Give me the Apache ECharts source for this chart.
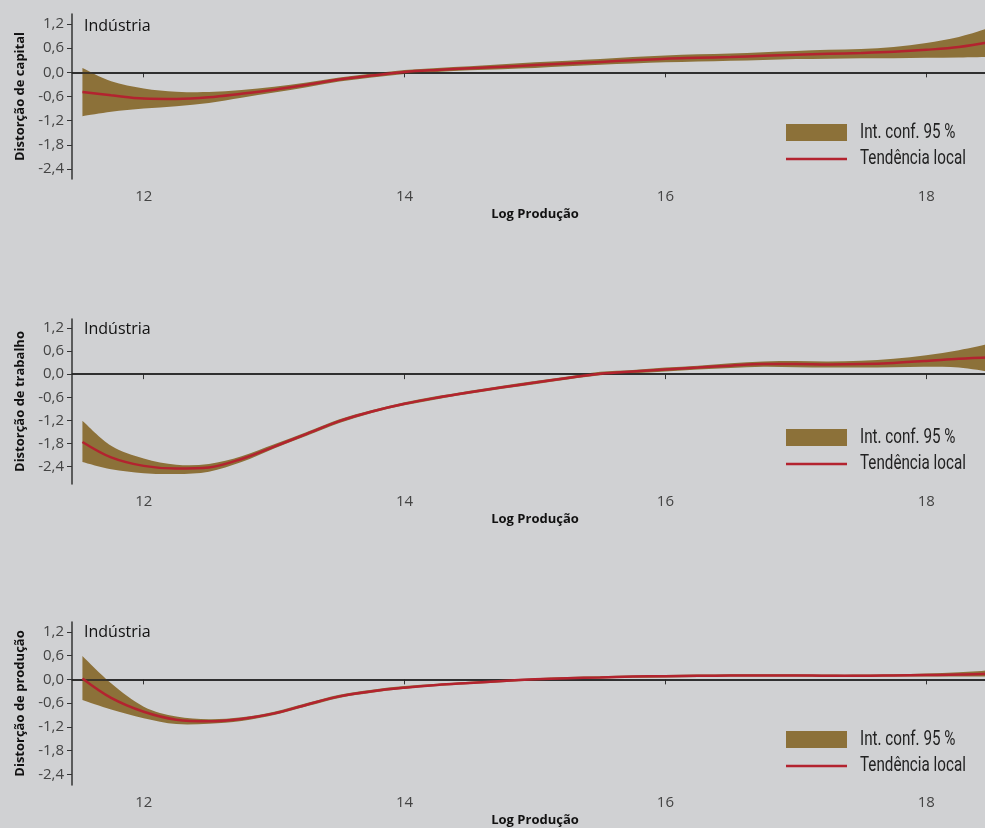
<!DOCTYPE html>
<html>
<head>
<meta charset="utf-8">
<script src="https://cdn.jsdelivr.net/npm/echarts@6/dist/echarts.min.js"></script>
<style>
html,body{margin:0;padding:0;background:#d0d1d3;overflow:hidden;}
#chart{width:1000px;height:828px;}
</style>
</head>
<body>
<div id="chart"></div>
<script>
// ---- data ----
const xs = [11.53, 11.75, 12, 12.25, 12.5, 12.75, 13, 13.25, 13.5, 13.75, 14, 14.25, 14.5, 14.75, 15,
            15.25, 15.5, 15.75, 16, 16.25, 16.5, 16.75, 17, 17.25, 17.5, 17.75, 18, 18.25, 18.5];

// Distorção de capital
const capLine  = [-0.49,-0.57,-0.65,-0.66,-0.62,-0.53,-0.43,-0.31,-0.18,-0.08, 0.01, 0.06, 0.10, 0.14, 0.18,
                   0.22, 0.26, 0.30, 0.34, 0.36, 0.38, 0.41, 0.44, 0.46, 0.48, 0.51, 0.56, 0.63, 0.76];
const capLower = [-1.09,-0.98,-0.90,-0.84,-0.76,-0.63,-0.50,-0.37,-0.23,-0.13,-0.04, 0.01, 0.05, 0.08, 0.11,
                   0.15, 0.19, 0.22, 0.25, 0.27, 0.29, 0.31, 0.33, 0.34, 0.35, 0.35, 0.36, 0.37, 0.39];
const capUpper = [ 0.11,-0.22,-0.40,-0.48,-0.49,-0.44,-0.36,-0.25,-0.13,-0.03, 0.06, 0.11, 0.15, 0.20, 0.25,
                   0.29, 0.33, 0.38, 0.42, 0.45, 0.47, 0.50, 0.53, 0.56, 0.58, 0.63, 0.73, 0.88, 1.12];

// Distorção de trabalho
const trabLine  = [-1.76,-2.16,-2.38,-2.45,-2.42,-2.20,-1.88,-1.55,-1.22,-0.97,-0.77,-0.61,-0.47,-0.34,-0.22,
                   -0.10, 0.01, 0.07, 0.12, 0.17, 0.22, 0.26, 0.26, 0.25, 0.26, 0.29, 0.34, 0.40, 0.44];
const trabLower = [-2.28,-2.47,-2.57,-2.59,-2.53,-2.28,-1.93,-1.60,-1.27,-1.01,-0.81,-0.65,-0.51,-0.38,-0.26,
                   -0.14,-0.03, 0.02, 0.07, 0.12, 0.16, 0.19, 0.18, 0.17, 0.17, 0.18, 0.19, 0.17, 0.05];
const trabUpper = [-1.21,-1.86,-2.19,-2.35,-2.33,-2.13,-1.82,-1.50,-1.17,-0.93,-0.73,-0.57,-0.43,-0.30,-0.18,
                   -0.06, 0.06, 0.11, 0.17, 0.22, 0.28, 0.33, 0.34, 0.33, 0.35, 0.40, 0.49, 0.62, 0.80];

// Distorção de produção
const prodLine  = [ 0.02,-0.47,-0.82,-1.02,-1.06,-1.00,-0.86,-0.64,-0.43,-0.30,-0.21,-0.14,-0.09,-0.04, 0.00,
                    0.03, 0.05, 0.07, 0.08, 0.09, 0.10, 0.10, 0.10, 0.09, 0.09, 0.10, 0.11, 0.12, 0.15];
const prodLower = [-0.52,-0.76,-0.98,-1.13,-1.12,-1.05,-0.90,-0.68,-0.47,-0.34,-0.24,-0.17,-0.12,-0.07,-0.03,
                    0.00, 0.02, 0.04, 0.05, 0.06, 0.07, 0.07, 0.07, 0.06, 0.06, 0.07, 0.07, 0.07, 0.07];
const prodUpper = [ 0.59,-0.10,-0.69,-0.94,-1.01,-0.96,-0.82,-0.60,-0.39,-0.26,-0.17,-0.11,-0.06,-0.01, 0.03,
                    0.06, 0.08, 0.10, 0.11, 0.12, 0.13, 0.13, 0.13, 0.12, 0.12, 0.13, 0.15, 0.18, 0.23];

const yTicks = [-2.4, -1.8, -1.2, -0.6, 0, 0.6, 1.2];
const xTicks = [12, 14, 16, 18];
const yNames = ['Distorção de capital', 'Distorção de trabalho', 'Distorção de produção'];
const panelLabel = 'Indústria';
const xName = 'Log Produção';
const bandName = 'Int. conf. 95 %';
const lineName = 'Tendência local';

// ---- layout / style ----
const BG = '#d0d1d3';
const BAND = '#8c7139';
const RED = '#b3232f';
const AX = '#333333';
const panels = [
  {line: capLine,  lo: capLower,  hi: capUpper,  top: 14,  ymin: -2.65, ymax: 1.45, labelY: 26,  legTop: 124},
  {line: trabLine, lo: trabLower, hi: trabUpper, top: 319, ymin: -2.85, ymax: 1.43, labelY: 329, legTop: 429},
  {line: prodLine, lo: prodLower, hi: prodUpper, top: 622, ymin: -2.67, ymax: 1.45, labelY: 632, legTop: 731}
];

const fmt = v => v.toFixed(1).replace('.', ',');
const f = n => n.toFixed(2);

// Catmull-Rom style smooth segments through pixel points
function curveThrough(pts) {
  let d = '';
  for (let i = 0; i < pts.length - 1; i++) {
    const p0 = pts[i - 1] || pts[i], p1 = pts[i], p2 = pts[i + 1], p3 = pts[i + 2] || pts[i + 1];
    const c1x = p1[0] + (p2[0] - p0[0]) / 6, c1y = p1[1] + (p2[1] - p0[1]) / 6;
    const c2x = p2[0] - (p3[0] - p1[0]) / 6, c2y = p2[1] - (p3[1] - p1[1]) / 6;
    d += ' C ' + f(c1x) + ' ' + f(c1y) + ' ' + f(c2x) + ' ' + f(c2y) + ' ' + f(p2[0]) + ' ' + f(p2[1]);
  }
  return d;
}

const grids = [], xAxes = [], yAxes = [], series = [], graphics = [];
panels.forEach((p, i) => {
  grids.push({left: 72, top: p.top, width: 926, height: 165, containLabel: false});
  xAxes.push({
    type: 'value', gridIndex: i, min: 11.45, max: 18.55,
    name: xName, nameLocation: 'middle', nameGap: 29,
    nameTextStyle: {fontFamily: 'Open Sans', fontWeight: 'bold', fontSize: 13, color: '#111'},
    axisLine: {show: true, lineStyle: {color: AX, width: 1.5}},
    axisTick: {show: true, length: 5, lineStyle: {color: AX, width: 1}, customValues: xTicks},
    axisLabel: {fontFamily: 'Open Sans', fontSize: 15, color: '#444', margin: 10, customValues: xTicks},
    splitLine: {show: false}
  });
  yAxes.push({
    type: 'value', gridIndex: i, min: p.ymin, max: p.ymax,
    name: yNames[i], nameLocation: 'middle', nameGap: 45,
    nameTextStyle: {fontFamily: 'Open Sans', fontWeight: 'bold', fontSize: 13, color: '#111'},
    axisLine: {show: true, lineStyle: {color: AX, width: 1.5}},
    axisTick: {show: true, length: 5, lineStyle: {color: AX, width: 1}, customValues: yTicks},
    axisLabel: {fontFamily: 'Open Sans', fontSize: 15, color: '#444', margin: 8, customValues: yTicks, formatter: fmt},
    splitLine: {show: false}
  });
  const lo = p.lo, hi = p.hi;
  series.push({
    type: 'custom', name: bandName, xAxisIndex: i, yAxisIndex: i, z: 1,
    itemStyle: {color: BAND},
    data: xs.map((x, k) => [x, lo[k], hi[k]]),
    renderItem: function (params, api) {
      if (params.dataIndex !== 0) return null;
      const up = xs.map((x, k) => api.coord([x, hi[k]]));
      const dn = xs.map((x, k) => api.coord([x, lo[k]])).reverse();
      let d = 'M ' + f(up[0][0]) + ' ' + f(up[0][1]) + curveThrough(up);
      d += ' L ' + f(dn[0][0]) + ' ' + f(dn[0][1]) + curveThrough(dn) + ' Z';
      return {type: 'path', shape: {pathData: d}, style: {fill: BAND, stroke: null}};
    },
    silent: true
  });
  series.push({
    type: 'line', name: lineName, xAxisIndex: i, yAxisIndex: i, z: 3,
    data: xs.map((x, k) => [x, p.line[k]]),
    smooth: 0.35, symbol: 'none', showSymbol: false,
    lineStyle: {color: RED, width: 2.5},
    itemStyle: {color: RED},
    silent: true,
    markLine: {
      silent: true, symbol: 'none', z: 2,
      label: {show: false},
      lineStyle: {color: '#222', width: 1.5, type: 'solid'},
      data: [{yAxis: 0}],
      animation: false
    }
  });
  // panel label
  graphics.push({
    type: 'text', x: 84, y: p.labelY,
    style: {text: panelLabel, fontFamily: 'Open Sans', fontSize: 16, fill: '#111', verticalAlign: 'middle', align: 'left'}
  });
  // legend (drawn as graphics to get the condensed look)
  graphics.push({type: 'rect', shape: {x: 786, y: p.legTop, width: 61, height: 17}, style: {fill: BAND}});
  graphics.push({type: 'line', shape: {x1: 786, y1: p.legTop + 35, x2: 847, y2: p.legTop + 35}, style: {stroke: RED, lineWidth: 2.5}});
  graphics.push({
    type: 'text', x: 860, y: p.legTop + 9, scaleX: 0.78,
    style: {text: bandName, fontFamily: 'Roboto', fontSize: 19.5, fill: '#222', verticalAlign: 'middle', align: 'left'}
  });
  graphics.push({
    type: 'text', x: 860, y: p.legTop + 35, scaleX: 0.78,
    style: {text: lineName, fontFamily: 'Roboto', fontSize: 19.5, fill: '#222', verticalAlign: 'middle', align: 'left'}
  });
});

const chart = echarts.init(document.getElementById('chart'), null, {renderer: 'canvas'});
chart.setOption({
  backgroundColor: BG,
  animation: false,
  grid: grids, xAxis: xAxes, yAxis: yAxes, series: series, graphic: graphics
});
</script>
</body>
</html>
